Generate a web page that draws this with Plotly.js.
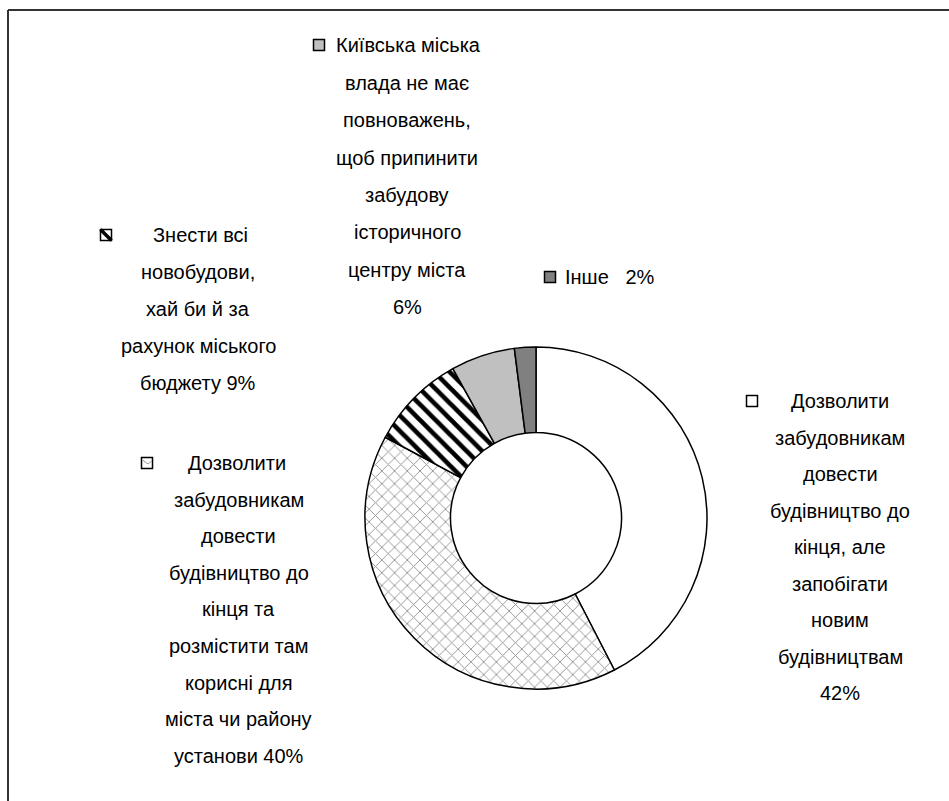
<!DOCTYPE html>
<html>
<head>
<meta charset="utf-8">
<script src="https://cdn.plot.ly/plotly-3.0.1.min.js"></script>
<style>html,body{margin:0;padding:0;background:#fff;}#chart{width:949px;height:801px;}</style>
</head>
<body>
<div id="chart"></div>
<script>
// ---- data ----
var categories = [
  "Дозволити забудовникам довести будівництво до кінця, але запобігати новим будівництвам",
  "Дозволити забудовникам довести будівництво до кінця та розмістити там корисні для міста чи району установи",
  "Знести всі новобудови, хай би й за рахунок міського бюджету",
  "Київська міська влада не має повноважень, щоб припинити забудову історичного центру міста",
  "Інше"
];
var values = [42, 40, 9, 6, 2];
var valueLabels = ["42%", "40%", "9%", "6%", "2%"];
// legend text as it is wrapped in the picture
var legendLines = [
  ["Дозволити", "забудовникам", "довести", "будівництво до", "кінця, але", "запобігати", "новим", "будівництвам", "42%"],
  ["Дозволити", "забудовникам", "довести", "будівництво до", "кінця та", "розмістити там", "корисні для", "міста чи району", "установи 40%"],
  ["Знести всі", "новобудови,", "хай би й за", "рахунок міського", "бюджету 9%"],
  ["Київська міська", "влада не має", "повноважень,", "щоб припинити", "забудову", "історичного", "центру міста", "6%"],
  ["Інше   2%"]
];

// ---- layout helpers (pixel -> paper) ----
var W = 949, H = 801;
function px(x){ return x / W; }
function py(y){ return 1 - y / H; }

var cx = 536, cy = 518, r = 171;

var fills = ["#ffffff", "#ffffff", "#ffffff", "#c0c0c0", "#808080"];
var patterns = {
  shape: ["", "x", "\\", "", ""],
  fgcolor: ["#000", "#959595", "#000", "#000", "#000"],
  bgcolor: ["#fff", "#fff", "#fff", "#c0c0c0", "#808080"],
  size: [8, 9, 11, 8, 8],
  solidity: [0.3, 0.2, 0.42, 0.3, 0.3],
  fillmode: "replace"
};

var trace = {
  type: "pie",
  labels: categories,
  values: values,
  hole: 0.5,
  sort: false,
  direction: "clockwise",
  rotation: 0,
  textinfo: "none",
  hoverinfo: "label+percent",
  marker: { colors: fills, line: { color: "#000", width: 1.5 }, pattern: patterns },
  domain: { x: [px(cx - r), px(cx + r)], y: [py(cy + r), py(cy - r)] },
  showlegend: false
};

// legend blocks: center x of text, first line y, line step, icon x, first-line text center
var blocks = [
  { tx: 840, y0: 401, step: 36.5, ix: 752, fx: 840 },
  { tx: 239, y0: 463, step: 36.6, ix: 147, fx: 237 },
  { tx: 198, y0: 235, step: 37,   ix: 106, fx: 200 },
  { tx: 407, y0: 45,  step: 37.5, ix: 319, fx: 408 },
  { tx: 610, y0: 277, step: 37,   ix: 550, fx: 610 }
];

var annotations = [];
var shapes = [];
var font = { family: "Liberation Sans, Arial, sans-serif", size: 20, color: "#000" };

blocks.forEach(function(b, i){
  legendLines[i].forEach(function(line, j){
    annotations.push({
      xref: "paper", yref: "paper", x: px(j === 0 ? b.fx : b.tx), y: py(b.y0 + j * b.step),
      xanchor: "center", yanchor: "middle", showarrow: false,
      text: line, font: font
    });
  });
  var s = 5.5;
  shapes.push({
    type: "rect", xref: "paper", yref: "paper",
    x0: px(b.ix - s), x1: px(b.ix + s), y0: py(b.y0 + s), y1: py(b.y0 - s),
    fillcolor: fills[i], line: { color: "#000", width: 1.5 }
  });
  if (i === 2) {
    shapes.push({ type: "line", xref: "paper", yref: "paper",
      x0: px(b.ix - s), y0: py(b.y0 - s), x1: px(b.ix + s), y1: py(b.y0 + s),
      line: { color: "#000", width: 3.5 } });
  }
  if (i === 1) {
    shapes.push({ type: "line", xref: "paper", yref: "paper",
      x0: px(b.ix - s + 1), y0: py(b.y0 - 3), x1: px(b.ix + 1), y1: py(b.y0 + 1),
      line: { color: "#999", width: 1 } });
    shapes.push({ type: "line", xref: "paper", yref: "paper",
      x0: px(b.ix + 1), y0: py(b.y0 + 1), x1: px(b.ix + s - 1), y1: py(b.y0 - 2),
      line: { color: "#999", width: 1 } });
  }
});

// frame (top and left edges visible)
shapes.push({ type: "line", xref: "paper", yref: "paper", x0: px(8), x1: 1, y0: py(10), y1: py(10), line: { color: "#333", width: 2 } });
shapes.push({ type: "line", xref: "paper", yref: "paper", x0: px(8), x1: px(8), y0: py(10), y1: 0, line: { color: "#333", width: 2 } });

var layout = {
  width: W, height: H,
  margin: { l: 0, r: 0, t: 0, b: 0 },
  paper_bgcolor: "#fff",
  showlegend: false,
  annotations: annotations,
  shapes: shapes
};

Plotly.newPlot("chart", [trace], layout, { displayModeBar: false, staticPlot: true });
</script>
</body>
</html>
